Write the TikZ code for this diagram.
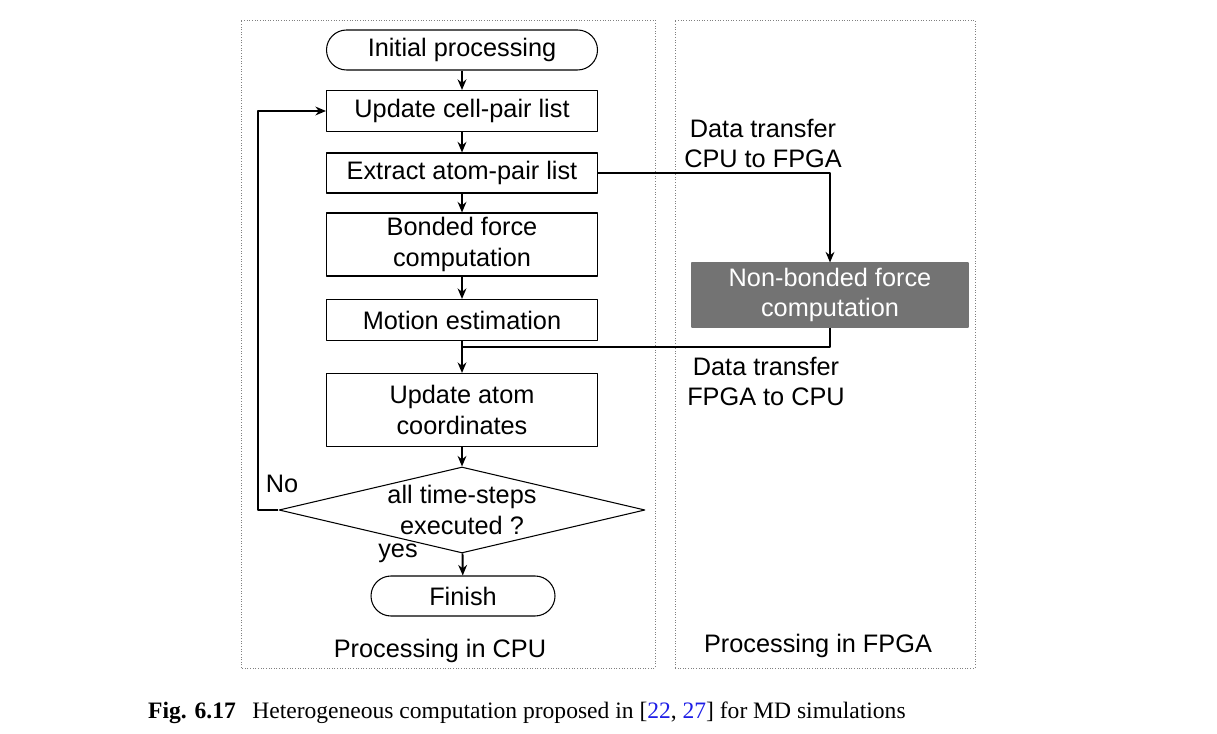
\documentclass[tikz,border=0pt]{standalone}
\usepackage{fontspec}
\setmainfont{Liberation Sans}
\newfontfamily\capfont{Liberation Serif}
\usetikzlibrary{arrows.meta,shapes.geometric}

\definecolor{fpgagray}{RGB}{115,115,115}
\definecolor{refblue}{RGB}{30,30,230}

\tikzset{
  procbox/.style={draw, line width=0.6pt, minimum width=5.42cm, minimum height=0.82cm, align=center, inner sep=0pt},
  termbox/.style={draw, line width=0.6pt, rounded corners=0.4cm, minimum height=0.8cm, align=center, inner sep=0pt},
  decision/.style={draw, diamond, line width=0.6pt, minimum width=7.32cm, minimum height=1.72cm, inner sep=0pt},
  regionbox/.style={draw=gray, densely dotted, line width=0.5pt},
  flow/.style={line width=1.1pt, -{Stealth[length=6pt,width=5pt]}},
  link/.style={line width=1.1pt}
}

\begin{document}
\begin{tikzpicture}[>=stealth, line join=round, font=\fontsize{14.4}{17.5}\selectfont]
    \useasboundingbox (0,0) rectangle (24.34,14.66);
    % regions
    \draw[regionbox] (4.82,1.30) rectangle (13.10,14.26);
    \draw[regionbox] (13.50,1.30) rectangle (19.50,14.26);
    \node (cpulbl) at (8.80,1.64) {Processing in CPU};
    \node (fpgalbl) at (16.36,1.74) {Processing in FPGA};
    % CPU flow
    \node[termbox, minimum width=5.42cm] (init) at (9.24,13.66) {Initial processing};
    \node[procbox] (ucp) at (9.24,12.44) {Update cell-pair list};
    \node[procbox, minimum height=0.8cm] (eap) at (9.24,11.20) {Extract atom-pair list};
    \node[procbox, minimum height=1.26cm] (bfc) at (9.24,9.77) {Bonded force\\computation};
    \node[procbox] (mot) at (9.24,8.26) {Motion estimation};
    \node[procbox, minimum height=1.46cm] (uac) at (9.24,6.46) {Update atom\\coordinates};
    \node[decision] (chk) at (9.24,4.46) {};
    \node[align=center] (chktxt) at (chk.center) {all time-steps\\executed ?};
    \node[termbox, minimum width=3.68cm] (fin) at (9.26,2.74) {Finish};
    \node (nolbl) at (5.64,4.98) {No};
    \node (yeslbl) at (7.96,3.60) {yes};
    % FPGA
    \node[procbox, fill=fpgagray, draw=fpgagray, text=white, minimum width=5.52cm, minimum height=1.28cm] (nbf) at (16.60,8.76) {Non-bonded force\\computation};
    \node[align=center] (tx1) at (15.26,11.79) {Data transfer\\CPU to FPGA};
    \node[align=center] (tx2) at (15.32,7.03) {Data transfer\\FPGA to CPU};
    \coordinate (join) at (9.24,7.72);
    \coordinate (loopx) at (5.16,0);
    % connectors
    \draw[flow] (init) -- (ucp);
    \draw[flow] (ucp) -- (eap);
    \draw[flow] (eap) -- (bfc);
    \draw[flow] (bfc) -- (mot);
    \draw[flow] (mot) -- (uac);
    \draw[flow] (uac) -- (chk);
    \draw[flow] (chk) -- (fin);
    \draw[flow] (eap.east) -| (nbf.north);
    \draw[link] (nbf.south) |- (join);
    \draw[flow] (chk.west) -- (chk.west -| loopx) |- (ucp.west);
    % caption
    \node[anchor=west, font=\capfont\fontsize{13.4}{16}\selectfont] (cap) at (2.84,0.40)
      {\textbf{Fig. 6.17}\hspace{0.7em}Heterogeneous computation proposed in [\textcolor{refblue}{22}, \textcolor{refblue}{27}] for MD simulations};
\end{tikzpicture}
\end{document}
